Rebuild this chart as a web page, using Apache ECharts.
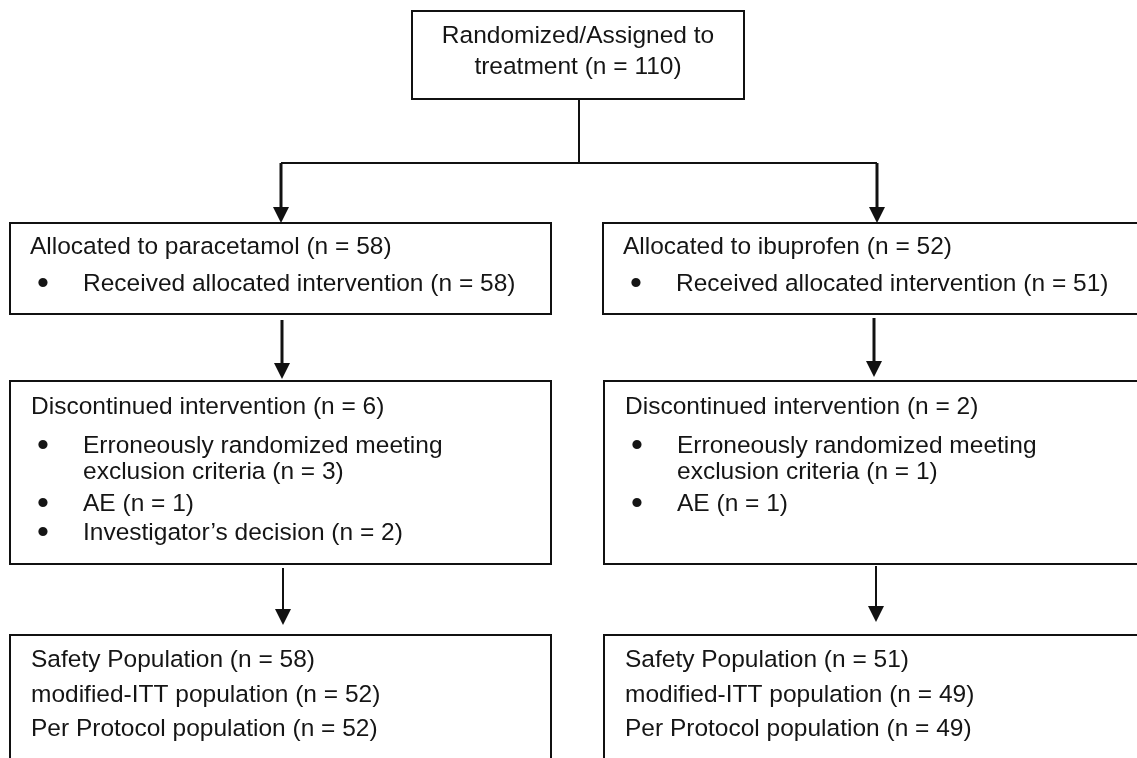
<!DOCTYPE html>
<html>
<head>
<meta charset="utf-8">
<title>Flow diagram</title>
<script src="https://cdn.jsdelivr.net/npm/echarts@6/dist/echarts.min.js"></script>
<style>
  html, body { margin: 0; padding: 0; background: #ffffff; }
  #chart { width: 1137px; height: 758px; }
</style>
</head>
<body>
<div id="chart"></div>
<script>
// ---------------- data ----------------
const totalLabel = ['Randomized/Assigned to', 'treatment'];
const totalN = 110;
const arms = ['paracetamol', 'ibuprofen'];
const allocatedN = [58, 52];
const receivedLabel = 'Received allocated intervention';
const receivedN = [58, 51];
const discontinuedLabel = 'Discontinued intervention';
const discontinuedN = [6, 2];
const reasonLabels = [['Erroneously randomized meeting', 'exclusion criteria'], ['AE'], ['Investigator\u2019s decision']];
const reasonN = [[3, 1, 2], [1, 1, null]];
const populationLabels = ['Safety Population', 'modified-ITT population', 'Per Protocol population'];
const populationN = [[58, 52, 52], [51, 49, 49]];

// ---------------- layout (axis units = pixels of the 1137x758 page) ----------------
const topRect = [412, 11, 744, 99];
const allocRects = [[10, 223, 551, 314], [603, 223, 1160, 314]];
const discRects = [[10, 381, 551, 564], [604, 381, 1160, 564]];
const popRects = [[10, 635, 551, 790], [604, 635, 1160, 790]];
const topLineY = [36, 67];
const allocLineY = [247, 284];
const discLineY = [407, 446, 472, 504, 533];
const popLineY = [660, 695, 729];
const headerDX = 20, bulletDX = 33, itemDX = 73;

const fmt = n => '(n = ' + n + ')';

// build the box table used by the custom series
const boxes = [];
boxes.push({
  rect: topRect,
  lines: [
    { t: totalLabel[0], x: (topRect[0] + topRect[2]) / 2, y: topLineY[0], a: 'center' },
    { t: totalLabel[1] + ' ' + fmt(totalN), x: (topRect[0] + topRect[2]) / 2, y: topLineY[1], a: 'center' }
  ]
});
arms.forEach((arm, i) => {
  const r = allocRects[i];
  boxes.push({
    rect: r,
    lines: [
      { t: 'Allocated to ' + arm + ' ' + fmt(allocatedN[i]), x: r[0] + headerDX, y: allocLineY[0], a: 'left' },
      { t: '\u2022', x: r[0] + bulletDX, y: allocLineY[1], a: 'center' },
      { t: receivedLabel + ' ' + fmt(receivedN[i]), x: r[0] + itemDX, y: allocLineY[1], a: 'left' }
    ]
  });
});
arms.forEach((arm, i) => {
  const r = discRects[i];
  const lines = [{ t: discontinuedLabel + ' ' + fmt(discontinuedN[i]), x: r[0] + headerDX + 1, y: discLineY[0], a: 'left' }];
  let row = 1;
  reasonLabels.forEach((lab, k) => {
    const n = reasonN[i][k];
    if (n === null || n === undefined) return;
    lines.push({ t: '\u2022', x: r[0] + bulletDX, y: discLineY[row], a: 'center' });
    lab.forEach((part, p) => {
      const last = p === lab.length - 1;
      lines.push({ t: part + (last ? ' ' + fmt(n) : ''), x: r[0] + itemDX, y: discLineY[row], a: 'left' });
      row++;
    });
  });
  boxes.push({ rect: r, lines: lines });
});
arms.forEach((arm, i) => {
  const r = popRects[i];
  boxes.push({
    rect: r,
    lines: populationLabels.map((lab, k) => ({ t: lab + ' ' + fmt(populationN[i][k]), x: r[0] + headerDX + 1, y: popLineY[k], a: 'left' }))
  });
});

// connectors: points, line width, arrow head
const connectors = [
  { p: [[579, 99], [579, 163]], w: 2, head: false },
  { p: [[281, 163], [877, 163]], w: 2, head: false },
  { p: [[281, 163], [281, 223]], w: 3, head: true },
  { p: [[877, 163], [877, 223]], w: 3, head: true },
  { p: [[282, 320], [282, 379]], w: 3, head: true },
  { p: [[874, 318], [874, 377]], w: 3, head: true },
  { p: [[283, 568], [283, 625]], w: 2, head: true },
  { p: [[876, 566], [876, 622]], w: 2, head: true }
];

const FONT = '"Liberation Sans", Arial, Helvetica, sans-serif';
const FS = 24.5;
const TEXT_COLOR = '#151515';
const LINE_COLOR = '#111111';

const chart = echarts.init(document.getElementById('chart'), null, { renderer: 'canvas' });

chart.setOption({
  animation: false,
  backgroundColor: '#ffffff',
  grid: { left: 0, right: 0, top: 0, bottom: 0, containLabel: false },
  xAxis: { type: 'value', min: 0, max: 1137, show: false },
  yAxis: { type: 'value', min: 0, max: 758, inverse: true, show: false },
  tooltip: { show: false },
  series: [
    {
      type: 'custom',
      name: 'boxes',
      coordinateSystem: 'cartesian2d',
      silent: true,
      data: boxes.map((b, i) => [i]),
      renderItem: function (params, api) {
        const b = boxes[api.value(0)];
        const p0 = api.coord([b.rect[0], b.rect[1]]);
        const p1 = api.coord([b.rect[2], b.rect[3]]);
        const children = [{
          type: 'rect',
          shape: { x: p0[0], y: p0[1], width: p1[0] - p0[0], height: p1[1] - p0[1] },
          style: { fill: '#ffffff', stroke: LINE_COLOR, lineWidth: 2 }
        }];
        b.lines.forEach(l => {
          const c = api.coord([l.x, l.y]);
          const isBullet = l.t === '\u2022';
          children.push({
            type: 'text',
            style: {
              text: l.t, x: c[0], y: isBullet ? c[1] + 1 : c[1],
              fill: TEXT_COLOR,
              fontSize: isBullet ? 34 : FS,
              fontFamily: FONT,
              align: l.a, verticalAlign: 'middle'
            }
          });
        });
        return { type: 'group', children: children };
      }
    },
    {
      type: 'custom',
      name: 'connectors',
      coordinateSystem: 'cartesian2d',
      silent: true,
      data: connectors.map((c, i) => [i]),
      renderItem: function (params, api) {
        const c = connectors[api.value(0)];
        const pts = c.p.map(pt => api.coord(pt));
        const children = [];
        const headH = 16, headW = 16;
        let linePts = pts.slice();
        if (c.head) {
          const end = pts[pts.length - 1];
          linePts[linePts.length - 1] = [end[0], end[1] - headH + 2];
          children.push({
            type: 'polygon',
            shape: { points: [[end[0] - headW / 2, end[1] - headH], [end[0] + headW / 2, end[1] - headH], [end[0], end[1]]] },
            style: { fill: LINE_COLOR, stroke: null }
          });
        }
        children.push({
          type: 'polyline',
          shape: { points: linePts },
          style: { stroke: LINE_COLOR, lineWidth: c.w, fill: null }
        });
        return { type: 'group', children: children };
      }
    }
  ]
});
</script>
</body>
</html>
